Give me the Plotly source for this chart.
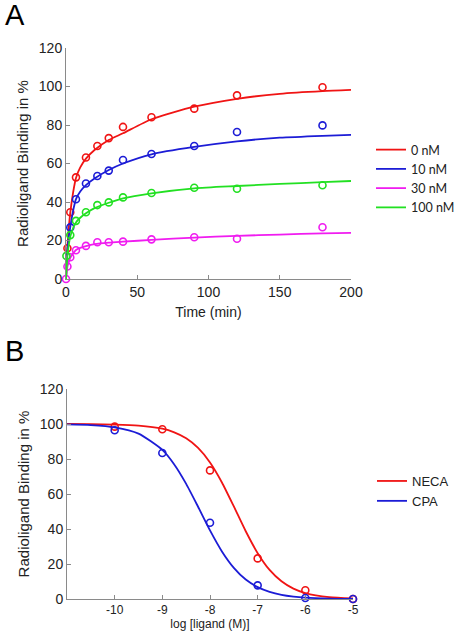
import plotly.graph_objects as go

# ---------------- Panel A data ----------------
series_names_a = ["0 nM", "10 nM", "30 nM", "100 nM"]
colors_a = ["#f01414", "#1c1cd6", "#f01cf0", "#22e022"]

t_red = [1, 3, 7, 14, 22, 30, 40, 60, 90, 120, 180]
y_red = [16, 34.7, 52.8, 63.1, 69.1, 73.2, 79.0, 84.0, 88.5, 95.4, 99.6]
t_blue = [3, 7, 14, 22, 30, 40, 60, 90, 120, 180]
y_blue = [26.8, 41.4, 49.6, 53.5, 56.3, 61.8, 64.9, 69.1, 76.4, 79.8]
t_mag = [0, 1, 3, 7, 14, 22, 30, 40, 60, 90, 120, 180]
y_mag = [0, 6.5, 11.3, 14.9, 17.2, 19.1, 19.1, 19.4, 20.6, 21.7, 20.9, 26.9]
t_green = [0.3, 3, 7, 14, 22, 30, 40, 60, 90, 120, 180]
y_green = [12.0, 22.8, 30.2, 34.7, 38.4, 39.8, 42.4, 44.7, 47.4, 46.9, 48.7]

t_fit = [0, 1, 2, 3, 5, 7, 10, 14, 20, 30, 40, 60, 90, 120, 150, 180, 200]
fit_red = [0, 17, 27, 34.5, 45, 52.5, 58, 62.5, 67, 72.2, 75.7, 83, 89.5, 93.6, 96.2, 97.6, 98.2]
fit_blue = [0, 15, 22, 27, 35.5, 41.5, 45.5, 48.8, 52.2, 56.6, 60, 64.8, 68.6, 71.5, 73.4, 74.4, 74.9]
fit_mag = [0, 6.5, 9, 11, 13.3, 15.1, 16.2, 17.1, 18.1, 18.9, 19.4, 20.3, 21.5, 22.4, 23.1, 23.7, 24.0]
fit_green = [0, 12, 18, 22, 26.5, 29.4, 31.8, 34.1, 36.8, 39.6, 41.9, 44.5, 47.1, 48.3, 49.4, 50.3, 50.9]

x_ticks_a = [0, 50, 100, 150, 200]
y_ticks = [0, 20, 40, 60, 80, 100, 120]

# ---------------- Panel B data ----------------
series_names_b = ["NECA", "CPA"]
colors_b = ["#f01414", "#1c1cd6"]
logc = [-10, -9, -8, -7, -6, -5]
y_neca = [98.5, 97.0, 73.5, 23.2, 5.0, 0.0]
y_cpa = [96.4, 83.4, 43.6, 7.8, 0.6, 0.0]

x_fit_b = [-11, -10.5, -10, -9.5, -9, -8.75, -8.5, -8.25, -8, -7.75, -7.5, -7.25, -7,
           -6.75, -6.5, -6.25, -6, -5.5, -5]
fit_neca = [100, 99.9, 99.7, 99.1, 97.3, 95.2, 91.8, 86.3, 78.0, 66.6, 52.9, 38.7, 26.2,
            16.6, 10.1, 5.9, 3.4, 1.1, 0.35]
fit_cpa = [99.8, 99.4, 98.1, 94.5, 85.2, 76.9, 65.8, 52.7, 39.2, 27.2, 17.8, 11.1, 6.8,
           4.1, 2.4, 1.4, 0.8, 0.27, 0.09]
x_tick_labels_b = ["-10", "-9", "-8", "-7", "-6", "-5"]

W, H = 454, 644
FONT = "Liberation Sans, Arial, sans-serif"
AXIS_GREY = "#8a8a8a"
TXT = "#222"

fig = go.Figure()

pts_a = [(t_red, y_red), (t_blue, y_blue), (t_mag, y_mag), (t_green, y_green)]
fits_a = [fit_red, fit_blue, fit_mag, fit_green]
for name, col, (tx, ty), fy in zip(series_names_a, colors_a, pts_a, fits_a):
    fig.add_trace(go.Scatter(x=t_fit, y=fy, mode="lines", name=name,
                             line=dict(color=col, width=1.8, shape="spline", smoothing=0.6),
                             xaxis="x", yaxis="y", legend="legend", cliponaxis=False))
    fig.add_trace(go.Scatter(x=tx, y=ty, mode="markers", showlegend=False,
                             marker=dict(symbol="circle-open", size=7, color=col,
                                         line=dict(width=1.6, color=col)),
                             xaxis="x", yaxis="y", cliponaxis=False))

pts_b = [y_neca, y_cpa]
fits_b = [fit_neca, fit_cpa]
for name, col, py, fy in zip(series_names_b, colors_b, pts_b, fits_b):
    fig.add_trace(go.Scatter(x=x_fit_b, y=fy, mode="lines", name=name,
                             line=dict(color=col, width=1.8, shape="spline", smoothing=0.6),
                             xaxis="x2", yaxis="y2", legend="legend2", cliponaxis=False))
    fig.add_trace(go.Scatter(x=logc, y=py, mode="markers", showlegend=False,
                             marker=dict(symbol="circle-open", size=7, color=col,
                                         line=dict(width=1.6, color=col)),
                             xaxis="x2", yaxis="y2", cliponaxis=False))

axis_common = dict(showgrid=False, zeroline=False, showline=True, linecolor=AXIS_GREY,
                   linewidth=1, ticks="inside", ticklen=4, tickcolor=AXIS_GREY,
                   automargin=False,
                   tickfont=dict(family=FONT, size=14, color=TXT))

fig.update_layout(
    width=W, height=H, autosize=False,
    margin=dict(l=0, r=0, t=0, b=0, autoexpand=False),
    paper_bgcolor="white", plot_bgcolor="white",
    xaxis=dict(axis_common, domain=[66 / W, 351 / W], range=[0, 200],
               tickvals=x_ticks_a, anchor="y",
               title=dict(text="Time (min)", font=dict(family=FONT, size=14, color=TXT),
                          standoff=8)),
    yaxis=dict(axis_common, domain=[1 - 279 / H, 1 - 48 / H], range=[0, 120],
               tickvals=y_ticks, anchor="x",
               title=dict(text="Radioligand Binding in %",
                          font=dict(family=FONT, size=15, color=TXT), standoff=6)),
    xaxis2=dict(axis_common, domain=[67 / W, 353 / W], range=[-11, -5],
                tickvals=logc, ticktext=x_tick_labels_b, anchor="y2",
                tickfont=dict(family=FONT, size=12, color=TXT),
                title=dict(text="log [ligand (M)]", font=dict(family=FONT, size=12, color=TXT),
                           standoff=3)),
    yaxis2=dict(axis_common, domain=[1 - 599 / H, 1 - 389 / H], range=[0, 120],
                tickvals=y_ticks, anchor="x2",
                title=dict(text="Radioligand Binding in %",
                           font=dict(family=FONT, size=15, color=TXT), standoff=6)),
    legend=dict(x=371 / W, y=1 - 135 / H, xanchor="left", yanchor="top",
                font=dict(family="Lato, sans-serif", size=12.5, color=TXT),
                bgcolor="rgba(0,0,0,0)", tracegroupgap=0, itemwidth=30),
    legend2=dict(x=372 / W, y=1 - 466 / H, xanchor="left", yanchor="top",
                 font=dict(family=FONT, size=13, color=TXT),
                 bgcolor="rgba(0,0,0,0)", tracegroupgap=0, itemwidth=30),
    annotations=[
        dict(text="A", x=3 / W, y=1 + 3 / H, xref="paper", yref="paper",
             xanchor="left", yanchor="top", showarrow=False,
             font=dict(family=FONT, size=29, color="black")),
        dict(text="B", x=3 / W, y=1 - 333 / H, xref="paper", yref="paper",
             xanchor="left", yanchor="top", showarrow=False,
             font=dict(family=FONT, size=29, color="black")),
    ],
)

fig.write_html("out.html")
